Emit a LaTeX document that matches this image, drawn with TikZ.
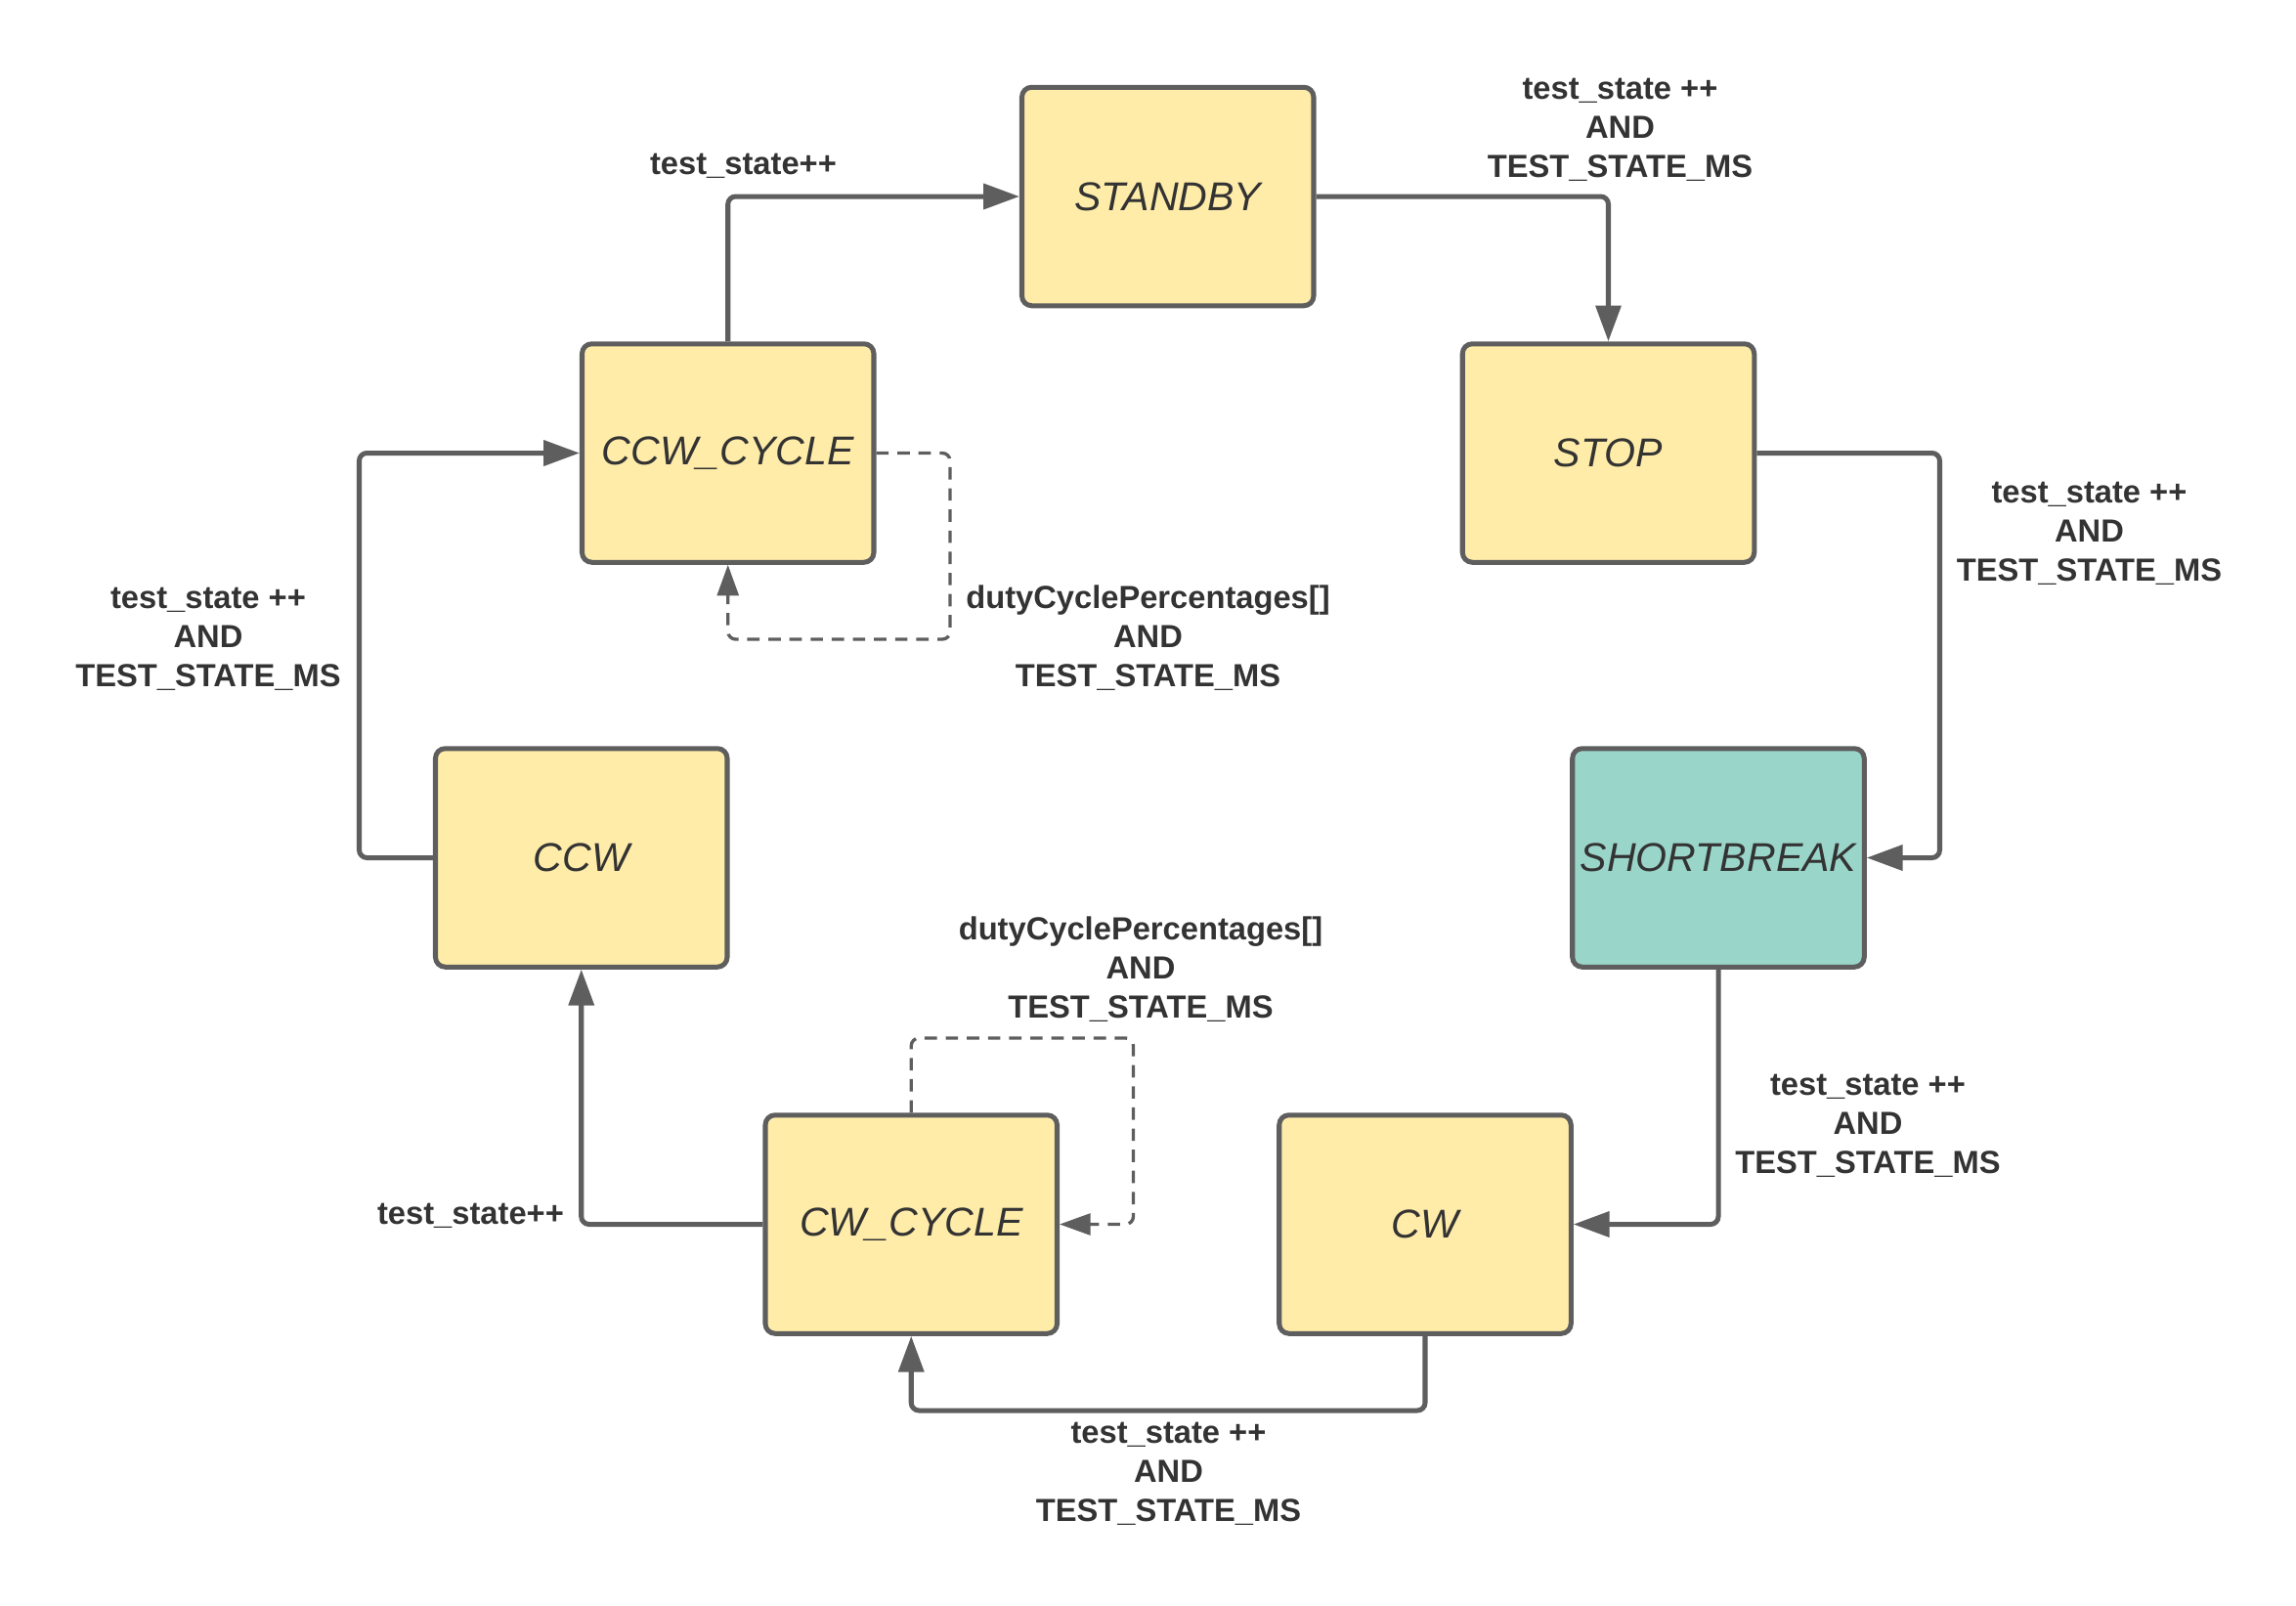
\documentclass[tikz,border=0pt]{standalone}
\usepackage{fontspec}
\setmainfont{Liberation Sans}
\usetikzlibrary{arrows.meta}
\definecolor{statefill}{HTML}{FFECA9}
\definecolor{breakfill}{HTML}{9AD5CA}
\definecolor{edgegray}{HTML}{5E5E5E}
\definecolor{textgray}{HTML}{333333}

\begin{document}
\begin{tikzpicture}
[every node/.style={text=textgray},
state/.style={draw=edgegray,fill=statefill,line width=0.95pt,rounded corners=1.9pt,minimum width=1.99cm,minimum height=1.49cm,inner sep=0pt,font=\fontsize{7.8}{9.4}\selectfont\itshape},
cond/.style={align=center,inner sep=0pt,font=\fontsize{6.2}{7.6}\selectfont\bfseries},
trans/.style={draw=edgegray,line width=0.95pt,rounded corners=1.5pt,-{Triangle[length=0.245cm,width=0.17cm]}},
dashtrans/.style={draw=edgegray,line width=0.63pt,rounded corners=1.5pt,dash pattern=on 2.4pt off 1.7pt,-{Triangle[length=0.21cm,width=0.145cm]}}]
\useasboundingbox (0,0) rectangle (15.66,-10.953);
\node[state] (standby) at (7.965,-1.34) {STANDBY};
\node[state] (ccwcycle) at (4.965,-3.09) {CCW\_CYCLE};
\node[state] (stop) at (10.97,-3.09) {STOP};
\node[state] (ccw) at (3.965,-5.85) {CCW};
\node[state,fill=breakfill] (shortbreak) at (11.72,-5.85) {SHORTBREAK};
\node[state] (cwcycle) at (6.215,-8.35) {CW\_CYCLE};
\node[state] (cw) at (9.72,-8.35) {CW};
\coordinate (stopturn) at (13.23,-3.09);
\coordinate (cwturn) at (9.72,-9.62);
\coordinate (ccwturn) at (2.45,-5.85);
\coordinate (ccwloopa) at (6.48,-3.09);
\coordinate (ccwloopb) at (4.965,-4.36);
\coordinate (cwloopa) at (7.73,-7.08);
\node[cond] (l1) at (5.07,-1.13) {test\_state++};
\node[cond] (l2) at (11.05,-0.885) {test\_state ++\\AND\\TEST\_STATE\_MS};
\node[cond] (l3) at (14.25,-3.64) {test\_state ++\\AND\\TEST\_STATE\_MS};
\node[cond] (l4) at (1.42,-4.36) {test\_state ++\\AND\\TEST\_STATE\_MS};
\node[cond] (l5) at (7.83,-4.35) {dutyCyclePercentages[]\\AND\\TEST\_STATE\_MS};
\node[cond] (l6) at (7.78,-6.61) {dutyCyclePercentages[]\\AND\\TEST\_STATE\_MS};
\node[cond] (l7) at (12.74,-7.68) {test\_state ++\\AND\\TEST\_STATE\_MS};
\node[cond] (l8) at (3.21,-8.29) {test\_state++};
\node[cond] (l9) at (7.97,-10.05) {test\_state ++\\AND\\TEST\_STATE\_MS};
\draw[trans] (ccwcycle) |- (standby);
\draw[trans] (standby) -| (stop);
\draw[trans] (stop) -- (stopturn) |- (shortbreak);
\draw[trans] (shortbreak) |- (cw);
\draw[trans] (cw) -- (cwturn) -| (cwcycle);
\draw[trans] (cwcycle) -| (ccw);
\draw[trans] (ccw) -- (ccwturn) |- (ccwcycle);
\draw[dashtrans] (ccwcycle.east) -- (ccwloopa) |- (ccwloopb) -- (ccwcycle.south);
\draw[dashtrans] (cwcycle.north) |- (cwloopa) |- (cwcycle.east);
\end{tikzpicture}
\end{document}
